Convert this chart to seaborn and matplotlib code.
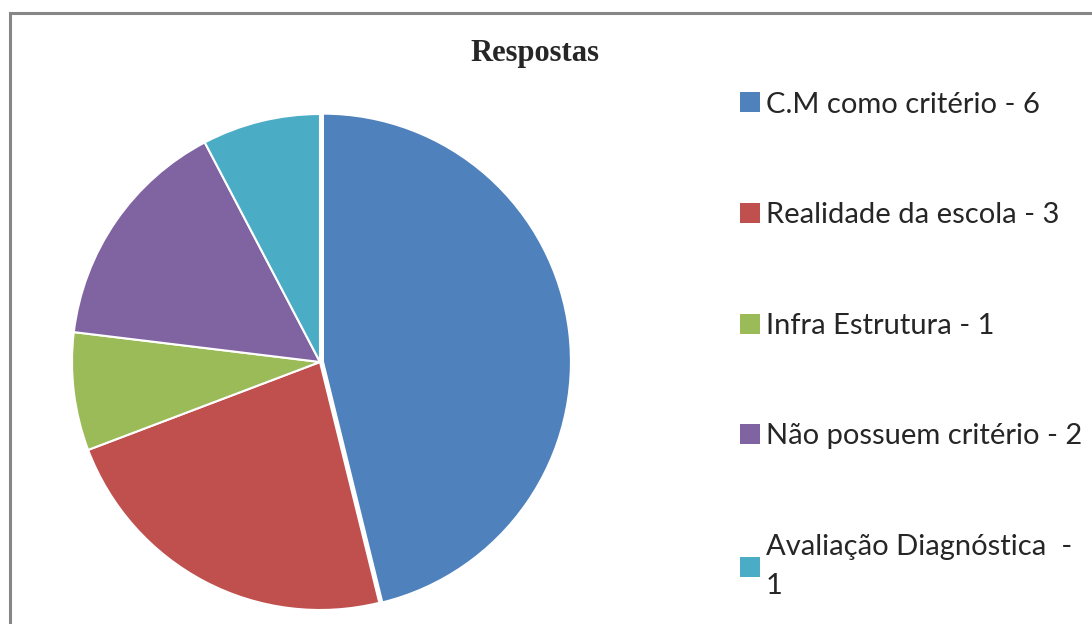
import matplotlib
matplotlib.use("Agg")
import matplotlib.pyplot as plt
from matplotlib.patches import Rectangle, Patch
import seaborn as sns

# data
categorias = ["C.M como critério - 6", "Realidade da escola - 3", "Infra Estrutura - 1",
              "Não possuem critério - 2", "Avaliação Diagnóstica  -\n1"]
respostas = [6, 3, 1, 2, 1]
cores = ["#4F81BD", "#C0504D", "#9BBB59", "#8064A2", "#4BACC6"]

sns.set_style("white")
plt.rcParams['font.family'] = ['Lato', 'DejaVu Sans']

fig = plt.figure(figsize=(10.92, 6.24), dpi=100)

# gray chart frame (right and bottom edges cut off in the original)
fig.patches.append(Rectangle((10/1092, -0.1), 1.2, 1 - 13/624 + 0.1,
                             transform=fig.transFigure, fill=False,
                             edgecolor="#868686", linewidth=2.2))

ax = fig.add_axes([72/1092, 14/624, 496/1092, 496/624])
wedges, _ = ax.pie(respostas, colors=cores, startangle=90, counterclock=False,
                   explode=[0.012, 0, 0, 0, 0], radius=1,
                   wedgeprops=dict(edgecolor="white", linewidth=1.5))
ax.set_xlim(-1.0, 1.0)
ax.set_ylim(-1.0, 1.0)
ax.set_aspect("equal")
ax.axis("off")

fig.text(535/1092, 1 - 53/624, "Respostas", ha="center", va="center",
         fontsize=22, fontweight="bold", family="Liberation Serif")

handles = [Patch(facecolor=c, edgecolor="none") for c in cores]
leg = fig.legend(handles, categorias, loc="upper left",
                 bbox_to_anchor=(728/1092, 1 - 80/624), frameon=False,
                 fontsize=21, handlelength=0.68, handleheight=0.68,
                 handletextpad=0.22, labelspacing=2.9, borderaxespad=0)
for t in leg.get_texts():
    t.set_linespacing(1.62)

fig.savefig("out.png", dpi=100)
